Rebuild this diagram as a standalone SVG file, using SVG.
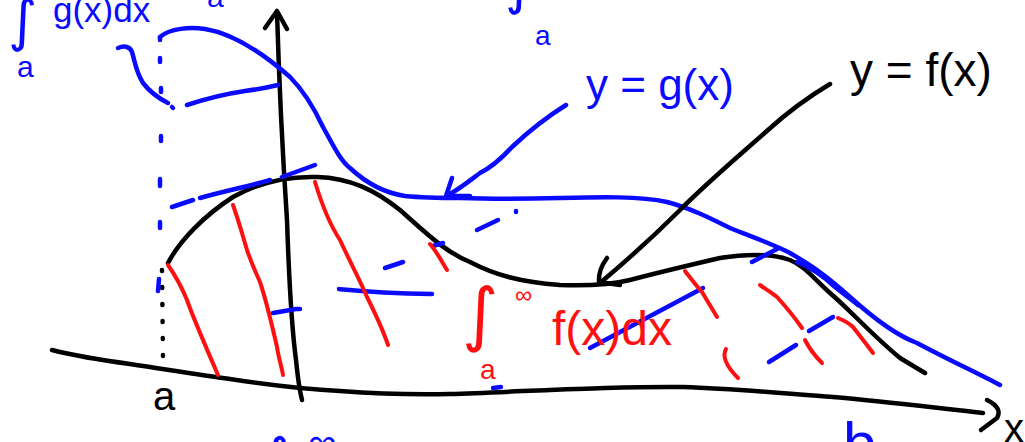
<svg xmlns="http://www.w3.org/2000/svg" width="1025" height="442" viewBox="0 0 1025 442">
<style>
.k{fill:none;stroke:#000;stroke-width:4.5;stroke-linecap:round;stroke-linejoin:round}
.b{fill:none;stroke:#0a0aff;stroke-width:4.5;stroke-linecap:round;stroke-linejoin:round}
.r{fill:none;stroke:#ff1010;stroke-width:4;stroke-linecap:round;stroke-linejoin:round}
.tk{fill:#000;font-family:"Liberation Sans","DejaVu Sans",sans-serif}
.tb{fill:#0a0aff;font-family:"Liberation Sans","DejaVu Sans",sans-serif}
.tr{fill:#ff1010;font-family:"Liberation Sans","DejaVu Sans",sans-serif}
.int{font-family:"DejaVu Sans",sans-serif}
</style>
<rect width="1025" height="442" fill="#fff"/>

<g id="axes">
  <path class="k" d="M52,350 C80,357 100,360 130,364 C170,370 200,375 230,379 C270,385 300,389 340,391 C380,394 410,395 450,394 C520,392 600,386 683,387 C740,389 790,394 833,397 C880,401 920,406 983,413"/>
  <path class="k" d="M987,400 Q1003,408 997,418 L981,430"/>
  <path class="k" d="M277,12 C279,80 283,160 287,220 C289,280 292,330 296,360 C298,380 300,392 302,400"/>
  <path class="k" d="M265,28 L277,11 L287,29"/>
  <path class="k" d="M162,270 L163,358" stroke-dasharray="1 16"/>
</g>

<g id="curve-f">
  <path class="k" d="M168,263 C180,240 205,215 233,197 C260,182 290,176 317,177 C350,178 375,190 400,210 C425,232 445,252 470,262 C495,275 520,282 560,285 C590,286 610,285 630,280 C660,272 690,265 720,258 C745,254 770,253 790,260 C805,266 815,280 830,293 C850,310 870,333 900,358 L925,373"/>
</g>

<g id="curve-g">
  <path class="b" d="M160,37 C170,28 190,27 205,29 C235,34 265,55 290,77 C305,92 315,110 323,127 C333,145 340,160 350,168 C365,182 385,193 405,196 C425,198 440,198 460,198 C490,199 520,199 560,198 C600,197 640,196 667,202 C690,208 710,218 730,228 C755,238 775,245 790,253 C805,262 820,270 850,297 C870,315 895,335 917,343 C945,358 975,372 1000,385"/>
  <path class="b" d="M797,262 C812,268 822,275 835,287 C845,295 852,300 858,305"/>
</g>

<g id="g-area">
  <path class="b" d="M160,38 L160,40 M160,58 L160,62 M161,88 L161,92 M161,136 L161,141 M160,179 L160,186 M160,222 L160,228 M159,279 L158,291"/>
  <path class="b" d="M118,48 C125,45 130,47 132,52 C135,62 136,72 143,83 C150,92 158,98 168,103"/>
  <path class="b" d="M172,107 L173,108"/>
  <path class="b" d="M187,105 C205,99 225,94 245,91 C260,89 270,87 278,85"/>
  <path class="b" d="M172,207 L193,200 M200,198 C225,191 250,186 270,180 M282,177 L315,165"/>
  <path class="b" d="M385,268 L403,262"/>
  <path class="b" d="M433,246 L443,243"/>
  <path class="b" d="M477,230 L498,220"/>
  <path class="b" d="M516,211 L516,212"/>
  <path class="b" d="M339,289 C360,291 380,293 432,294"/>
  <path class="b" d="M273,313 L296,309 L300,309"/>
  <path class="b" d="M493,388 L501,387"/>
  <path class="b" d="M590,348 L703,288"/>
  <path class="b" d="M752,262 L777,249"/>
  <path class="b" d="M809,331 L833,317"/>
  <path class="b" d="M769,362 L796,345"/>
</g>

<g id="f-area">
  <path class="r" d="M168,265 C175,275 182,288 187,300 C192,315 205,345 218,375"/>
  <path class="r" d="M233,205 C240,225 244,240 247,250 C252,265 257,275 260,282 C266,300 272,325 277,347 C279,360 282,368 283,375"/>
  <path class="r" d="M315,182 C322,205 330,225 340,240 C350,262 360,280 367,297 C376,315 383,330 388,345"/>
  <path class="r" d="M430,244 C437,252 442,262 447,270"/>
  <path class="r" d="M685,271 C692,280 698,288 702,292 C708,302 713,310 717,317"/>
  <path class="r" d="M760,285 C767,290 772,293 777,297 C787,308 795,318 802,328"/>
  <path class="r" d="M805,340 C810,350 816,357 822,363"/>
  <path class="r" d="M838,318 C845,321 850,324 853,327 C860,336 867,345 873,353"/>
  <path class="r" d="M726,349 Q720,360 738,378"/>
</g>

<g id="connectors">
  <path class="b" d="M566,105 C550,115 530,130 512,147 C500,160 490,168 480,173 C468,182 458,190 448,195"/>
  <path class="b" d="M452,178 L446,196 L470,196"/>
  <path class="k" d="M830,84 C810,96 790,110 768,130 C740,155 710,180 680,210 C655,235 625,262 600,283"/>
  <path class="k" d="M607,258 Q598,270 599,282 L620,285"/>
</g>

<g id="labels">
  <text class="tb int" x="8" y="40" font-size="56">∫</text>
  <text class="tb" x="53" y="22" font-size="35">g(x)dx</text>
  <text class="tb" x="17" y="77" font-size="30">a</text>
  <text class="tb" x="207" y="7" font-size="30">a</text>
  <text class="tb int" x="505" y="3" font-size="56">∫</text>
  <text class="tb" x="535" y="45" font-size="28">a</text>
  <text class="tb" x="586" y="100" font-size="44">y = g(x)</text>
  <text class="tk" x="850" y="86" font-size="46">y = f(x)</text>
  <text class="tr int" x="462" y="338" font-size="70">∫</text>
  <text class="tr" x="515" y="303" font-size="24">∞</text>
  <text class="tr" x="480" y="379" font-size="28">a</text>
  <text class="tr" x="552" y="345" font-size="48">f(x)dx</text>
  <text class="tk" x="153" y="410" font-size="40">a</text>
  <text class="tb int" x="260" y="478" font-size="56">∫</text>
  <text class="tb" x="308" y="456" font-size="40">∞</text>
  <text class="tb" x="843" y="464" font-size="60">b</text>
  <text class="tk" x="1004" y="442" font-size="40">x</text>
</g>
</svg>
